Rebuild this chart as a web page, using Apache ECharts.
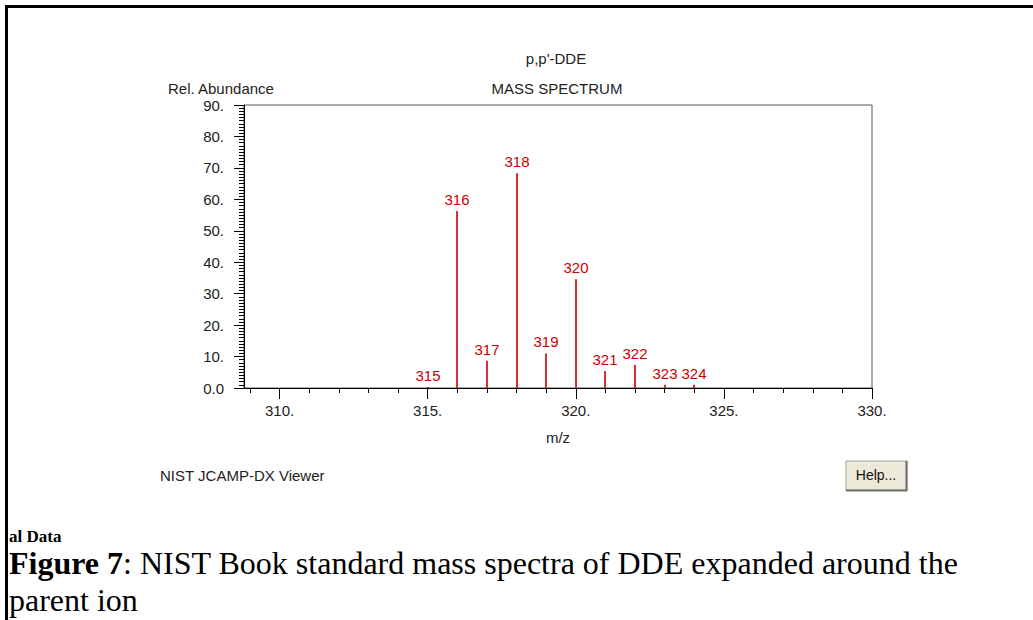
<!DOCTYPE html>
<html>
<head>
<meta charset="utf-8">
<script src="https://cdn.jsdelivr.net/npm/echarts@6/dist/echarts.min.js"></script>
<style>
html,body{margin:0;padding:0;background:#fff;}
#chart{width:1033px;height:620px;}
</style>
</head>
<body>
<div id="chart"></div>
<script>
// ---- data ----
const masses = [315, 316, 317, 318, 319, 320, 321, 322, 323, 324];
const abundances = [0.3, 56.3, 8.7, 68.3, 11.0, 34.6, 5.4, 7.3, 1.0, 1.0];
const xRange = [308.8, 330];
const yRange = [0, 90];
const titleText = "p,p'-DDE";
const subtitleText = 'MASS SPECTRUM';
const yName = 'Rel. Abundance';
const xName = 'm/z';

// ---- layout ----
const W = 1033, H = 620;
const plotLeft = 244, plotRight = 872, plotTop = 105, plotBottom = 388;
const scale = (plotRight - plotLeft) / (xRange[1] - xRange[0]);
const leftFor = v => plotLeft + (v - xRange[0]) * scale;
const red = '#cc0000';
const font = '"Liberation Sans", Arial, sans-serif';
const serif = '"Liberation Serif", "Times New Roman", serif';

const chart = echarts.init(document.getElementById('chart'), null, {renderer: 'svg'});

const gridBase = {top: plotTop, bottom: H - plotBottom, right: W - plotRight, containLabel: false};

chart.setOption({
  backgroundColor: '#fff',
  animation: false,
  textStyle: {fontFamily: font},
  grid: [
    Object.assign({left: plotLeft, show: true, borderColor: '#555', borderWidth: 1, backgroundColor: 'transparent'}, gridBase),
    Object.assign({left: leftFor(309)}, gridBase),
    Object.assign({left: leftFor(310)}, gridBase)
  ],
  xAxis: [
    {
      gridIndex: 0, type: 'value', min: xRange[0], max: xRange[1],
      axisLine: {show: true, lineStyle: {color: '#000', width: 1}},
      axisTick: {show: false}, axisLabel: {show: false}, splitLine: {show: false},
      name: xName, nameLocation: 'middle', nameGap: 42,
      nameTextStyle: {color: '#222', fontSize: 15, fontFamily: font}
    },
    {
      gridIndex: 1, type: 'value', min: 309, max: xRange[1], interval: 1,
      axisLine: {show: false},
      axisTick: {show: true, length: 5, lineStyle: {color: '#000', width: 1}},
      axisLabel: {show: false}, splitLine: {show: false}
    },
    {
      gridIndex: 2, type: 'value', min: 310, max: xRange[1], interval: 5,
      axisLine: {show: false},
      axisTick: {show: true, length: 11, lineStyle: {color: '#000', width: 1}},
      axisLabel: {show: true, margin: 15, color: '#222', fontSize: 15, fontFamily: font,
        formatter: v => v + '.'},
      splitLine: {show: false}
    }
  ],
  yAxis: [
    {
      gridIndex: 0, type: 'value', min: yRange[0], max: yRange[1], interval: 10,
      axisLine: {show: true, lineStyle: {color: '#000', width: 1}},
      axisTick: {show: true, length: 10, lineStyle: {color: '#000', width: 1}},
      minorTick: {show: true, splitNumber: 10, length: 5, lineStyle: {color: '#000', width: 1}},
      axisLabel: {show: true, margin: 20, color: '#222', fontSize: 15, fontFamily: font,
        formatter: v => v === 0 ? '0.0' : v + '.'},
      splitLine: {show: false}, minorSplitLine: {show: false}
    },
    {gridIndex: 1, type: 'value', min: yRange[0], max: yRange[1], show: false},
    {gridIndex: 2, type: 'value', min: yRange[0], max: yRange[1], show: false}
  ],
  series: [{
    type: 'custom',
    xAxisIndex: 0, yAxisIndex: 0,
    z: 10,
    data: masses.map((m, i) => [m, abundances[i]]),
    renderItem: (params, api) => {
      const m = api.value(0), a = api.value(1);
      const p0 = api.coord([m, 0]);
      const p1 = api.coord([m, a]);
      const px = Math.round(p0[0]);
      return {
        type: 'group',
        children: [
          {type: 'line', shape: {x1: px, y1: p0[1], x2: px, y2: p1[1]},
            style: {stroke: red, lineWidth: 1.6}},
          {type: 'text', x: px, y: p1[1] - 4,
            style: {text: String(m), fill: red, font: '15px ' + font,
              align: 'center', verticalAlign: 'bottom'}}
        ]
      };
    }
  }],
  graphic: [
    {type: 'rect', shape: {x: 5, y: 5, width: W - 5, height: 3}, style: {fill: '#000'}, silent: true},
    {type: 'rect', shape: {x: 5, y: 5, width: 3, height: H - 5}, style: {fill: '#000'}, silent: true},
    {type: 'text', x: 556, y: 58, style: {text: titleText, fill: '#222', font: '15px ' + font, align: 'center', verticalAlign: 'middle'}},
    {type: 'text', x: 557, y: 88, style: {text: subtitleText, fill: '#222', font: '15px ' + font, align: 'center', verticalAlign: 'middle'}},
    {type: 'text', x: 168, y: 88, style: {text: yName, fill: '#222', font: '15px ' + font, align: 'left', verticalAlign: 'middle'}},
    {type: 'text', x: 160, y: 475, style: {text: 'NIST JCAMP-DX Viewer', fill: '#222', font: '15px ' + font, align: 'left', verticalAlign: 'middle'}},
    {type: 'rect', shape: {x: 846, y: 461, width: 61, height: 29}, style: {fill: '#ece9d8', stroke: '#a7a69c', lineWidth: 1}},
    {type: 'polyline', shape: {points: [[906.5, 461], [906.5, 490.5], [846, 490.5]]}, style: {stroke: '#716f64', lineWidth: 2, fill: null}},
    {type: 'text', x: 876, y: 475, style: {text: 'Help...', fill: '#111', font: '14px ' + font, align: 'center', verticalAlign: 'middle'}},
    {type: 'text', x: 9, y: 536, style: {text: 'al Data', fill: '#000', font: 'bold 17px ' + serif, align: 'left', verticalAlign: 'middle'}},
    {type: 'text', x: 9, y: 563, style: {
      text: '{b|Figure 7}: NIST Book standard mass spectra of DDE expanded around the',
      fill: '#000', font: '32px ' + serif, align: 'left', verticalAlign: 'middle',
      rich: {b: {fontWeight: 'bold', fontSize: 32, fontFamily: serif, fill: '#000'}}}},
    {type: 'text', x: 9, y: 600, style: {text: 'parent ion', fill: '#000', font: '32px ' + serif, align: 'left', verticalAlign: 'middle'}}
  ]
});
</script>
</body>
</html>
